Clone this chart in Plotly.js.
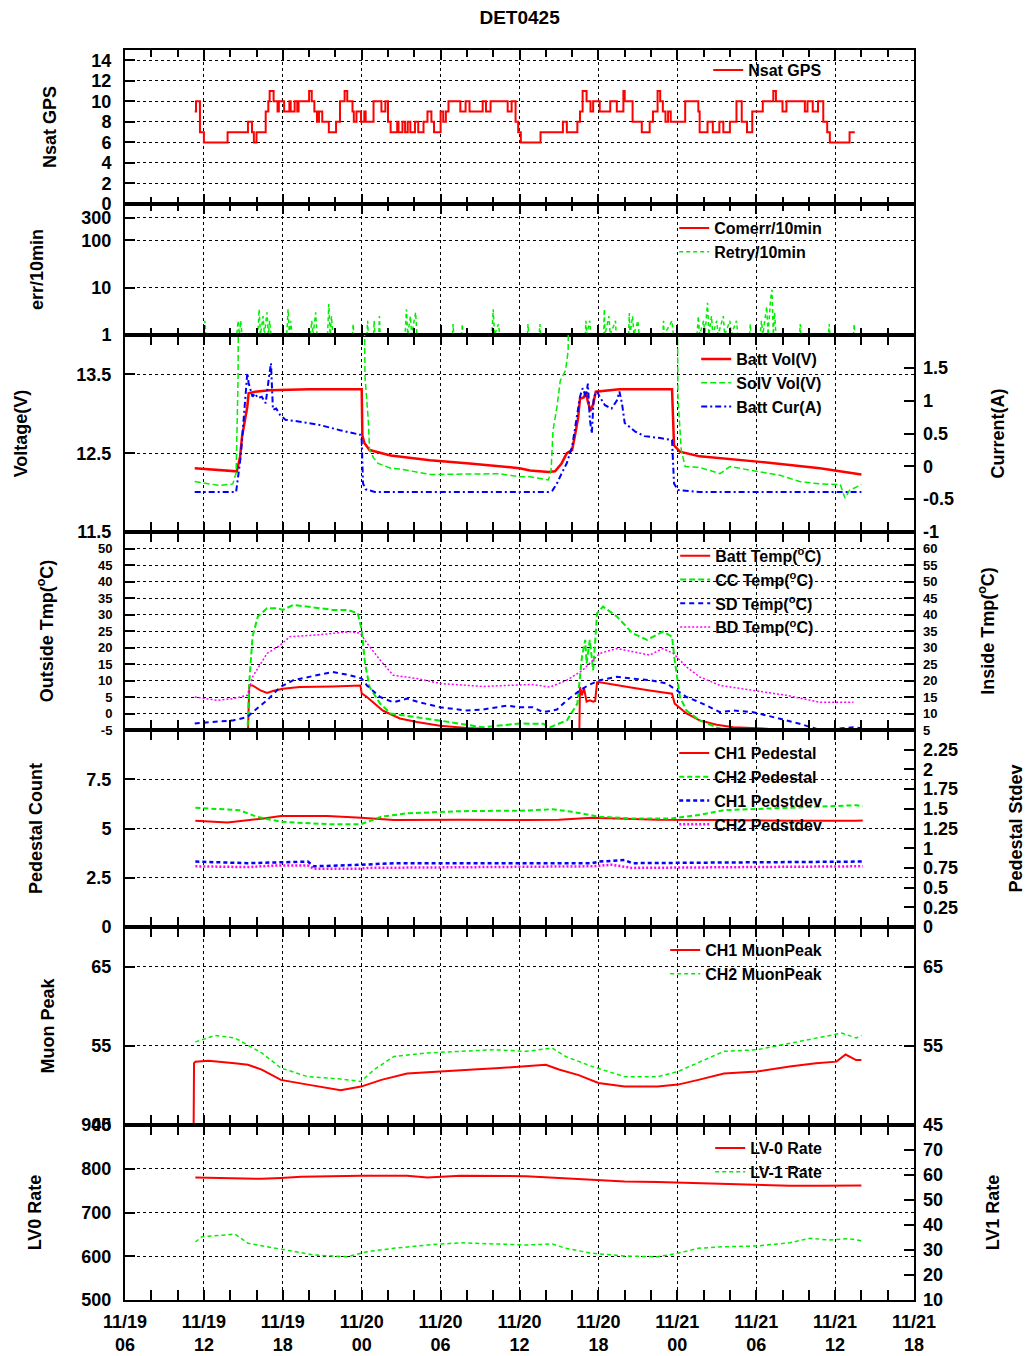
<!DOCTYPE html>
<html><head><meta charset="utf-8">
<script src="https://cdn.plot.ly/plotly-3.0.1.min.js"></script>
<style>html,body{margin:0;padding:0;background:#fff}#chart{width:1032px;height:1356px}</style>
</head><body><div id="chart"></div>
<script>
// ---- x axis: hours since 11/19 00:00 ----
const timeTickVals = [6,12,18,24,30,36,42,48,54,60,66];
const timeTickText = ['11/19<br>06','11/19<br>12','11/19<br>18','11/20<br>00','11/20<br>06','11/20<br>12','11/20<br>18','11/21<br>00','11/21<br>06','11/21<br>12','11/21<br>18'];

// ---- Panel 1: Nsat GPS ----
const nsatT = [11.3,11.4,11.7,12.0,13.8,15.35,15.66,15.8,16.0,16.7,16.9,17.0,17.3,17.6,17.7,18.1,18.5,18.6,18.9,19.1,19.2,20.0,20.2,20.4,20.6,20.75,21.0,21.5,22.05,22.35,22.7,22.9,23.3,23.4,23.6,23.95,24.2,24.3,24.9,25.5,25.8,26.0,26.2,26.7,26.8,27.1,27.3,27.5,27.7,28.05,28.3,28.7,29.0,29.3,29.5,30.0,30.2,30.4,30.6,31.5,31.9,32.2,33.2,33.45,33.8,35.1,35.4,35.7,35.9,36.1,37.6,39.3,39.6,40.4,40.6,40.8,41.1,41.4,41.6,42.1,42.9,43.4,43.9,44.0,44.6,45.3,45.9,46.15,46.5,46.7,46.9,47.1,47.3,47.5,47.8,48.6,49.6,49.7,50.3,50.7,51.2,51.5,52.0,52.5,52.9,53.3,53.7,54.5,55.3,55.5,56.0,56.3,56.8,57.7,57.9,58.3,58.7,59.1,59.4,59.6,61.1,61.5];
const nsatV = [9,10,7,6,7,8,7,6,7,9,10,11,10,9,10,9,10,9,10,9,10,11,10,9,8,9,8,7,8,10,11,10,9,8,9,8,9,8,10,9,10,8,7,8,7,8,7,8,7,8,7,8,9,8,7,9,8,9,10,9,10,9,10,9,10,9,10,8,7,6,7,8,7,8,9,11,10,9,10,9,10,9,11,10,8,7,8,9,11,10,9,8,9,8,8,10,9,7,8,7,8,7,8,10,8,7,9,10,11,10,9,10,10,9,10,9,10,8,7,6,7,7];

// ---- Panel 2: errors per 10 min ----
const comerrT = [11.3,36.0,62.0];
const comerrV = [0,0,0];
const retryT = [11.3,12.0,12.08,12.15,14.5,14.6,14.7,14.8,14.9,16.1,16.2,16.3,16.5,16.6,16.8,16.9,17.0,17.1,18.3,18.4,18.5,18.6,18.7,20.1,20.2,20.3,20.5,20.6,21.4,21.5,21.6,21.7,21.8,23.3,23.35,23.4,24.4,24.45,24.5,24.9,24.95,25.0,25.3,25.35,25.4,27.3,27.4,27.5,27.7,27.8,28.1,28.2,30.9,30.95,31.0,31.6,31.65,31.7,33.9,34.0,34.1,34.4,34.5,36.6,36.65,36.7,37.5,37.55,37.6,41.0,41.05,41.1,41.35,41.4,42.4,42.45,42.5,42.8,42.9,43.3,43.35,44.3,44.35,44.4,44.6,44.7,45.0,45.1,46.9,46.95,47.0,47.6,47.7,49.5,49.6,49.7,50.0,50.1,50.3,50.4,50.6,50.7,51.0,51.1,51.5,51.6,52.0,52.1,52.5,52.6,53.5,53.55,53.6,54.3,54.4,54.5,54.8,54.9,55.1,55.2,55.3,55.4,55.5,57.3,57.35,57.4,59.5,59.55,59.6,61.4,61.45,61.5,62.0];
const retryV = [1,1,2,1,1,2,1,2,1,1,3.5,1,2.5,1,3,1,2,1,1,3.5,1,2,1,1,2,1,3,1,1,4.5,1,2.5,1,1,1.7,1,1,2,1,1,2,1,1,2.5,1,1,3.5,1,2.5,1,3,1,1,1.7,1,1,1.7,1,1,3.5,1,1.7,1,1,1.7,1,1,1.7,1,1,2,1,2,1,1,3.5,1,2.5,1,2,1,1,2.9,1,2.5,1,2,1,1,2,1,2,1,1,2.5,1,2,1,4.8,1,2.5,1,2,1,2.5,1,2,1,2,1,1,1.7,1,1,2,1,4,1,6,9,1,3,1,1,1.7,1,1,1.7,1,1,1.7,1,1];

// ---- Panel 3: voltages and current ----
const battVolT = [11.3,14.5,14.75,14.9,15.1,15.3,15.4,15.9,17.0,20.0,24.0,24.05,24.2,24.6,26.2,29.2,32.2,34.5,36.0,36.8,38.2,38.7,39.2,39.6,40.0,40.2,40.45,40.6,40.9,41.05,41.2,41.4,41.6,41.8,43.6,47.6,47.75,48.2,49.7,54.3,58.85,62.0];
const battVolV = [12.31,12.27,12.45,12.71,12.90,13.09,13.26,13.28,13.30,13.31,13.31,12.73,12.63,12.54,12.47,12.41,12.37,12.33,12.31,12.28,12.26,12.27,12.37,12.50,12.54,12.71,12.94,13.19,13.21,13.28,13.15,13.04,13.12,13.28,13.31,13.31,12.60,12.52,12.46,12.39,12.31,12.23];
const solVolT = [11.3,12.1,13.2,14.2,14.45,14.6,14.75,23.9,24.0,24.25,24.5,24.6,24.9,25.25,26.2,26.9,29.2,32.2,34.5,36.0,36.8,38.2,38.4,38.55,38.85,39.1,39.5,39.7,39.9,47.8,47.9,48.05,48.3,48.6,49.7,50.9,51.25,52.0,54.3,55.8,57.3,58.85,60.4,60.75,61.1,62.0];
const solVolV = [12.14,12.12,12.09,12.11,12.25,13.47,19.5,19.5,18.0,13.47,12.92,12.54,12.44,12.37,12.31,12.30,12.23,12.24,12.24,12.20,12.20,12.16,12.28,12.79,13.09,13.42,13.55,13.80,19.5,19.5,17.0,13.21,12.54,12.33,12.32,12.26,12.24,12.33,12.26,12.22,12.14,12.11,12.10,11.93,12.03,12.10];
const battCurT = [11.3,14.45,14.6,14.8,15.0,15.1,15.3,15.4,15.7,15.9,16.1,16.4,16.7,16.95,17.1,17.25,17.5,17.8,18.2,19.3,20.8,22.35,23.9,24.0,24.1,24.3,25.0,30.0,38.2,38.5,38.85,39.2,39.6,40.0,40.2,40.45,40.6,40.8,41.05,41.2,41.35,41.5,41.65,41.9,42.1,42.5,43.0,43.4,43.6,43.8,44.0,44.8,45.5,46.7,47.6,47.75,48.05,49.7,62.0];
const battCurV = [-0.39,-0.39,-0.16,0.15,0.66,0.91,1.42,1.27,1.06,1.11,1.04,1.06,0.96,1.36,1.57,0.86,0.88,0.78,0.71,0.68,0.63,0.55,0.48,0.40,-0.26,-0.35,-0.39,-0.39,-0.39,-0.37,-0.26,-0.11,0.05,0.30,0.55,0.81,1.06,1.19,1.06,1.26,0.71,0.50,1.06,1.14,1.06,0.93,0.88,1.00,1.14,0.95,0.66,0.53,0.46,0.43,0.40,-0.26,-0.36,-0.39,-0.39];

// ---- Panel 4: temperatures (outside axis, deg C) ----
const battTempT = [15.35,15.45,15.7,16.3,16.8,17.25,18.0,19.3,21.8,23.9,24.0,24.4,25.6,26.9,28.2,29.95,32.0,33.2,36.0,38.0,40.4,40.55,40.6,40.75,40.9,41.1,41.35,41.6,41.75,41.9,42.1,43.4,44.6,45.9,47.6,47.8,48.7,49.7,51.0,52.25,54.8,56.0,62.0];
const battTempV = [-6,8.5,8.5,7.0,6.2,6.8,7.5,8.0,8.2,8.5,6.1,5.0,0.9,-1.5,-2.6,-3.7,-4.4,-4.6,-4.7,-5.0,-5.3,-5.5,8.0,5.5,7.8,3.6,4.0,3.6,3.8,9.5,9.5,8.5,7.8,7.0,6.0,3.0,0.0,-2.1,-3.4,-4.2,-4.6,-5.3,-6];
const ccTempT = [11.3,15.3,15.45,15.7,16.1,16.8,17.6,18.0,18.8,19.85,21.8,22.9,23.7,24.0,24.25,24.6,25.4,26.2,28.2,30.7,33.2,34.5,36.0,37.0,37.8,38.3,39.6,40.4,40.75,41.0,41.1,41.35,41.6,41.9,42.35,43.4,44.6,45.7,46.9,47.6,47.8,48.2,48.7,49.7,51.0,51.8,53.0,62.0];
const ccTempV = [-7,-7,9.5,23.3,29.4,31.9,31.9,31.4,32.9,32.4,31.4,31.4,30.4,25.3,15.2,8.0,3.0,0.0,-1.1,-2.6,-4.2,-3.7,-3.0,-3.1,-3.1,-4.2,-2.1,3.0,17.2,22.3,15.2,22.3,13.1,30.4,32.4,29.4,24.3,22.3,24.8,23.3,16.2,5.0,0.9,-2.1,-4.2,-5.2,-7,-7];
const sdTempT = [11.3,13.0,14.2,15.3,15.7,16.8,17.8,18.8,20.6,21.8,23.1,24.0,24.4,25.4,26.4,27.45,28.4,29.95,32.0,33.2,35.05,36.0,37.0,37.8,38.85,39.6,40.6,41.2,42.1,43.4,44.6,45.9,47.2,47.8,48.7,49.7,51.25,52.25,53.75,54.8,56.3,57.3,58.6,59.8,61.4,62.0];
const sdTempV = [-3.0,-2.6,-2.1,-1.1,0.4,4.0,8.0,10.1,11.6,12.6,11.6,10.6,8.5,5.0,3.4,4.5,3.4,1.9,0.9,1.2,2.4,1.9,1.9,0.4,1.2,4.0,7.0,8.5,10.1,11.1,10.6,10.1,9.1,7.5,5.0,3.4,0.4,0.9,0.4,-0.6,-2.1,-3.1,-4.7,-4.7,-4.2,-4.5];
// BD temperature on the inside-temperature (right) axis
const bdTempT = [11.3,13.0,14.2,15.3,15.7,16.8,17.8,18.55,20.6,21.8,23.1,23.9,24.4,25.4,26.4,28.2,29.95,33.2,36.0,37.0,38.3,39.6,40.8,42.1,43.4,44.6,45.9,46.9,47.7,48.7,49.7,51.25,53.75,56.3,58.85,61.4];
const bdTempV = [15.0,14.0,14.5,15.5,21.1,28.2,30.7,33.3,33.8,34.3,34.8,34.3,31.3,26.2,21.6,20.6,19.1,18.2,18.8,18.8,18.0,20.1,23.1,28.2,29.7,28.7,27.7,29.7,28.2,24.1,21.1,18.5,17.0,15.5,13.4,13.4];

// ---- Panel 5: pedestals ----
const ch1PedT = [11.35,13.8,16.4,17.85,21.4,23.95,26.45,31.5,36.5,39.0,41.5,44.0,46.5,51.55,56.6,61.6,62.1];
const ch1PedV = [5.39,5.31,5.50,5.63,5.63,5.55,5.43,5.45,5.43,5.45,5.55,5.50,5.45,5.43,5.39,5.39,5.40];
const ch2PedT = [11.35,14.7,16.0,17.85,21.4,23.95,25.5,27.45,31.5,36.5,38.5,40.0,42.05,44.55,47.5,49.6,51.55,56.6,61.6,62.1];
const ch2PedV = [6.05,5.93,5.60,5.34,5.22,5.22,5.60,5.77,5.88,5.91,5.98,5.85,5.60,5.51,5.51,5.68,5.93,6.05,6.18,6.13];
const ch1SdevT = [11.35,15.35,19.9,20.35,23.95,26.45,41.5,42.05,44.0,44.55,61.6,62.1];
const ch1SdevV = [0.83,0.81,0.83,0.77,0.79,0.81,0.81,0.83,0.85,0.81,0.83,0.83];
const ch2SdevT = [11.35,15.35,17.4,19.9,20.35,23.95,24.4,41.5,43.0,44.55,61.6,62.1];
const ch2SdevV = [0.77,0.76,0.78,0.78,0.74,0.74,0.75,0.77,0.79,0.75,0.77,0.77];

// ---- Panel 6: muon peaks ----
const ch1MuonT = [11.2,11.25,11.35,12.35,14.35,15.35,16.4,17.85,19.9,22.4,23.95,25.5,27.45,30.4,32.5,34.5,36.0,38.0,39.0,40.5,42.0,44.0,46.5,48.05,49.6,51.55,54.05,56.55,58.55,60.1,60.8,61.6,62.0];
const ch1MuonV = [40,52.8,53.0,53.1,52.8,52.6,52.0,50.7,50.1,49.4,49.85,50.7,51.5,51.75,52.0,52.2,52.4,52.6,52.0,51.3,50.3,49.85,49.85,50.1,50.7,51.5,51.75,52.4,52.8,53.0,53.9,53.2,53.2];
const ch2MuonT = [11.35,12.85,14.35,15.35,16.4,17.85,19.9,22.4,23.95,24.95,26.45,29.0,31.5,34.0,36.5,38.5,39.5,41.5,44.0,46.5,48.05,50.1,51.55,54.05,56.55,58.55,60.5,61.6,62.0];
const ch2MuonV = [55.5,56.3,56.0,55.1,54.1,52.2,51.1,50.8,50.5,52.0,53.65,54.1,54.3,54.5,54.3,54.7,53.65,52.4,51.1,51.1,51.75,53.2,54.3,54.5,55.3,56.0,56.6,56.0,56.3];

// ---- Panel 7: trigger rates ----
const lv0T = [11.35,13.8,16.4,17.85,19.4,23.95,27.45,29.0,31.5,36.5,39.0,41.5,44.0,46.5,49.05,51.55,54.05,56.55,59.0,62.0];
const lv0V = [780,779,777,779,782,784,784,780,784,783,779,774,771,770,768,765,763,761,761,762];
const lv1T = [11.35,11.85,13.4,14.35,15.35,17.4,18.4,20.35,22.9,24.4,26.45,29.0,31.5,34.0,36.5,38.5,39.5,41.5,44.0,46.5,48.05,49.6,51.55,54.05,56.55,58.1,59.5,61.05,62.0];
const lv1V = [33.2,35.3,35.9,36.4,32.7,30.7,29.7,28.0,27.3,29.3,30.7,32.0,32.9,32.4,32.0,32.4,30.7,28.7,27.6,27.3,28.7,30.7,31.3,31.6,32.9,34.7,34.0,34.5,33.7];

// ---- tick labels of the y axes ----
const nsatTicks = [0,2,4,6,8,10,12,14];
const errTicks = [1,10,100,300];
const voltTicks = [11.5,12.5,13.5];
const curTicks = [-1,-0.5,0,0.5,1,1.5];
const curTickText = ['-1','-0.5','0','0.5','1','1.5'];
const outTicks = [-5,0,5,10,15,20,25,30,35,40,45,50];
const outTickText = ['-5','0','5','10','15','20','25','30','35','40','45','50'];
const inTicks = [5,10,15,20,25,30,35,40,45,50,55,60];
const pedTicks = [0,2.5,5,7.5];
const sdevTicks = [0,0.25,0.5,0.75,1,1.25,1.5,1.75,2,2.25];
const muonTicks = [45,55,65];
const lv0Ticks = [500,600,700,800,900];
const lv1Ticks = [10,20,30,40,50,60,70];

// ---- styling ----
const FAM = '"Liberation Sans", Arial, Helvetica, sans-serif';
const TICKFONT = {family: FAM, size: 18, color: '#000', weight: 'bold'};
const SMALLTICKFONT = {family: FAM, size: 13, color: '#000', weight: 'bold'};
const TITLEFONT = {family: FAM, size: 18, color: '#000', weight: 'bold'};
const LEGFONT = {family: FAM, size: 16, color: '#000', weight: 'bold'};
const RED = '#ff0000', GREEN = '#00ee00', BLUE = '#0000ff', MAGENTA = '#ff00ff';

const domains = [[0.8768,1],[0.772,0.8768],[0.6144,0.772],[0.456,0.6144],[0.2984,0.456],[0.14,0.2984],[0,0.14]];

function xAxis(i) {
  const ax = {
    domain: [0,1], range: [6,66], anchor: 'y' + (i === 1 ? '' : i),
    tickmode: 'array', tickvals: timeTickVals, ticktext: timeTickText,
    showticklabels: i === 7, tickfont: TICKFONT, ticklabelstandoff: 4,
    ticks: 'inside', ticklen: 10, tickwidth: 2, tickcolor: '#000',
    showline: true, linewidth: 2, linecolor: '#000', mirror: 'allticks',
    showgrid: true, gridcolor: '#000', griddash: 'dot', gridwidth: 1, zeroline: false,
    minor: {tickmode: 'linear', tick0: 0, dtick: 2, ticks: 'inside', ticklen: 7, tickwidth: 2, tickcolor: '#000', showgrid: false}
  };
  if (i !== 1) ax.matches = 'x';
  return ax;
}
function yAxis(i, opts) {
  return Object.assign({
    domain: domains[i-1], anchor: 'x' + (i === 1 ? '' : i),
    tickmode: 'array', tickfont: TICKFONT, ticklabelstandoff: 8,
    ticks: 'inside', ticklen: 10, tickwidth: 2, tickcolor: '#000',
    showline: true, linewidth: 2, linecolor: '#000', mirror: true,
    showgrid: true, gridcolor: '#000', griddash: 'dot', gridwidth: 1, zeroline: false
  }, opts);
}
function y2Axis(i, opts) {
  return Object.assign({
    overlaying: 'y' + i, anchor: 'x' + i, side: 'right',
    tickmode: 'array', tickfont: TICKFONT, ticklabelstandoff: 8,
    ticks: 'inside', ticklen: 10, tickwidth: 2, tickcolor: '#000',
    showline: false, showgrid: false, zeroline: false
  }, opts);
}
function ttl(text, standoff) { return {text: text, font: TITLEFONT, standoff: standoff}; }
function legendAt(y) {
  return {x: 0.89, xanchor: 'right', y: y, yanchor: 'top', bgcolor: 'rgba(255,255,255,0)', borderwidth: 0,
          font: LEGFONT, tracegroupgap: 0, itemwidth: 30};
}

const traces = [
  {x: nsatT, y: nsatV, name: 'Nsat GPS', mode: 'lines', line: {color: RED, width: 2, shape: 'hv'}, xaxis: 'x', yaxis: 'y', legend: 'legend'},
  {x: comerrT, y: comerrV, name: 'Comerr/10min', mode: 'lines', line: {color: RED, width: 2}, xaxis: 'x2', yaxis: 'y2', legend: 'legend2'},
  {x: retryT, y: retryV, name: 'Retry/10min', mode: 'lines', line: {color: GREEN, width: 1.5, dash: '4px,3px'}, xaxis: 'x2', yaxis: 'y2', legend: 'legend2'},
  {x: battVolT, y: battVolV, name: 'Batt Vol(V)', mode: 'lines', line: {color: RED, width: 2.5}, xaxis: 'x3', yaxis: 'y3', legend: 'legend3'},
  {x: solVolT, y: solVolV, name: 'SolV Vol(V)', mode: 'lines', line: {color: GREEN, width: 1.5, dash: '6px,3px'}, xaxis: 'x3', yaxis: 'y3', legend: 'legend3'},
  {x: battCurT, y: battCurV, name: 'Batt Cur(A)', mode: 'lines', line: {color: BLUE, width: 2, dash: '6px,3px,2px,3px'}, xaxis: 'x3', yaxis: 'y8', legend: 'legend3'},
  {x: battTempT, y: battTempV, name: 'Batt Temp(<sup>o</sup>C)', mode: 'lines', line: {color: RED, width: 2}, xaxis: 'x4', yaxis: 'y4', legend: 'legend4'},
  {x: ccTempT, y: ccTempV, name: 'CC Temp(<sup>o</sup>C)', mode: 'lines', line: {color: GREEN, width: 2, dash: '6px,3px'}, xaxis: 'x4', yaxis: 'y4', legend: 'legend4'},
  {x: sdTempT, y: sdTempV, name: 'SD Temp(<sup>o</sup>C)', mode: 'lines', line: {color: BLUE, width: 2, dash: '5px,4px'}, xaxis: 'x4', yaxis: 'y4', legend: 'legend4'},
  {x: bdTempT, y: bdTempV, name: 'BD Temp(<sup>o</sup>C)', mode: 'lines', line: {color: MAGENTA, width: 1.5, dash: '2px,2px'}, xaxis: 'x4', yaxis: 'y9', legend: 'legend4'},
  {x: ch1PedT, y: ch1PedV, name: 'CH1 Pedestal', mode: 'lines', line: {color: RED, width: 2}, xaxis: 'x5', yaxis: 'y5', legend: 'legend5'},
  {x: ch2PedT, y: ch2PedV, name: 'CH2 Pedestal', mode: 'lines', line: {color: GREEN, width: 2, dash: '5px,3px'}, xaxis: 'x5', yaxis: 'y5', legend: 'legend5'},
  {x: ch1SdevT, y: ch1SdevV, name: 'CH1 Pedstdev', mode: 'lines', line: {color: BLUE, width: 2.5, dash: '4px,3px'}, xaxis: 'x5', yaxis: 'y10', legend: 'legend5'},
  {x: ch2SdevT, y: ch2SdevV, name: 'CH2 Pedstdev', mode: 'lines', line: {color: MAGENTA, width: 2.5, dash: '2px,2px'}, xaxis: 'x5', yaxis: 'y10', legend: 'legend5'},
  {x: ch1MuonT, y: ch1MuonV, name: 'CH1 MuonPeak', mode: 'lines', line: {color: RED, width: 2}, xaxis: 'x6', yaxis: 'y6', legend: 'legend6'},
  {x: ch2MuonT, y: ch2MuonV, name: 'CH2 MuonPeak', mode: 'lines', line: {color: GREEN, width: 1.5, dash: '4px,3px'}, xaxis: 'x6', yaxis: 'y11', legend: 'legend6'},
  {x: lv0T, y: lv0V, name: 'LV-0 Rate', mode: 'lines', line: {color: RED, width: 2}, xaxis: 'x7', yaxis: 'y7', legend: 'legend7'},
  {x: lv1T, y: lv1V, name: 'LV-1 Rate', mode: 'lines', line: {color: GREEN, width: 1.5, dash: '4px,3px'}, xaxis: 'x7', yaxis: 'y12', legend: 'legend7'}
];

const layout = {
  width: 1032, height: 1356,
  margin: {l: 125, r: 118, t: 50, b: 56},
  paper_bgcolor: '#fff', plot_bgcolor: '#fff',
  font: {family: FAM, color: '#000'},
  title: {text: 'DET0425', font: {family: FAM, size: 19, color: '#000', weight: 'bold'}, x: 0.5035, xanchor: 'center', y: 0.987, yref: 'container', yanchor: 'middle'},
  xaxis: xAxis(1), xaxis2: xAxis(2), xaxis3: xAxis(3), xaxis4: xAxis(4), xaxis5: xAxis(5), xaxis6: xAxis(6), xaxis7: xAxis(7),
  yaxis: yAxis(1, {range: [0,15], tickvals: nsatTicks, title: ttl('Nsat GPS', 30)}),
  yaxis2: yAxis(2, {type: 'log', range: [0,2.766], tickvals: errTicks, ticktext: errTicks.map(String), title: ttl('err/10min', 33)}),
  yaxis3: yAxis(3, {range: [11.5,14], tickvals: voltTicks, title: ttl('Voltage(V)', 44)}),
  yaxis4: yAxis(4, {range: [-5,55], tickvals: outTicks, ticktext: outTickText, tickfont: SMALLTICKFONT, title: ttl('Outside Tmp(<sup>o</sup>C)', 40)}),
  yaxis5: yAxis(5, {range: [0,10], tickvals: pedTicks, title: ttl('Pedestal Count', 39)}),
  yaxis6: yAxis(6, {range: [45,70], tickvals: muonTicks, title: ttl('Muon Peak', 32)}),
  yaxis7: yAxis(7, {range: [500,900], tickvals: lv0Ticks, title: ttl('LV0 Rate', 35)}),
  yaxis8: y2Axis(3, {range: [-1,2], tickvals: curTicks, ticktext: curTickText, title: ttl('Current(A)', 38)}),
  yaxis9: y2Axis(4, {range: [5,65], tickvals: inTicks, tickfont: SMALLTICKFONT, title: ttl('Inside Tmp(<sup>o</sup>C)', 44)}),
  yaxis10: y2Axis(5, {range: [0,2.5], tickvals: sdevTicks, title: ttl('Pedestal Stdev', 52)}),
  yaxis11: y2Axis(6, {range: [45,70], tickvals: muonTicks}),
  yaxis12: y2Axis(7, {range: [10,80], tickvals: lv1Ticks, title: ttl('LV1 Rate', 44)}),
  legend: legendAt(0.9976), legend2: legendAt(0.8712), legend3: legendAt(0.7664), legend4: legendAt(0.609),
  legend5: legendAt(0.4512), legend6: legendAt(0.2936), legend7: legendAt(0.1352),
  showlegend: true
};

Plotly.newPlot('chart', traces, layout, {staticPlot: true, displayModeBar: false});
</script>
</body></html>
